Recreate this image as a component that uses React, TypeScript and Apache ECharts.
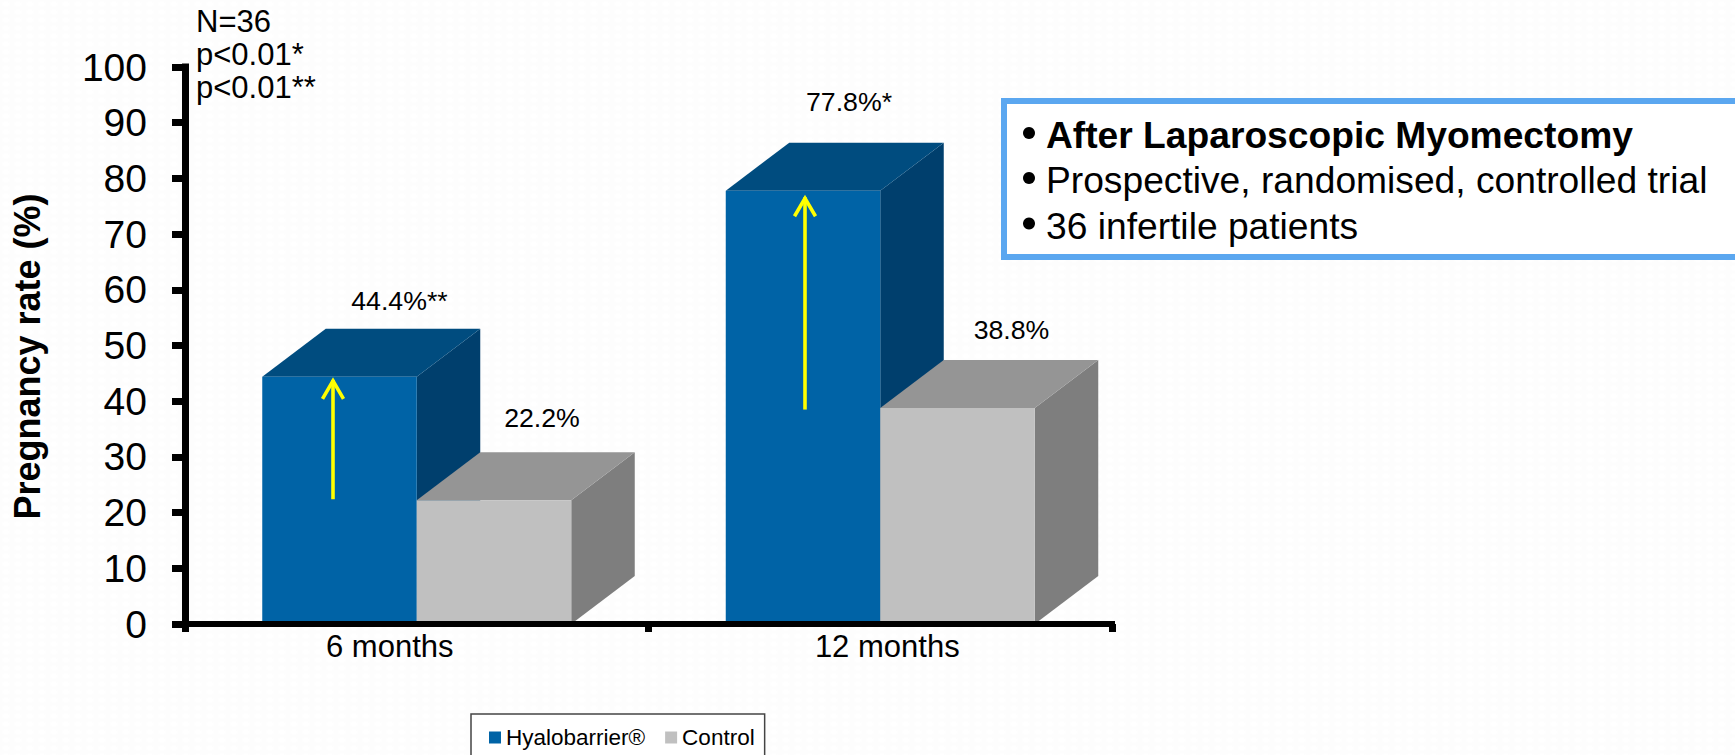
import React, { useEffect, useRef } from "react";
import * as echarts from "echarts";

const categories = ["6 months", "12 months"];
const hyalobarrier = [44.4, 77.8];
const control = [22.2, 38.8];
const hyalobarrierLabels = ["44.4%**", "77.8%*"];
const controlLabels = ["22.2%", "38.8%"];
const arrowFrom = [22.4, 38.5];
const arrowTo = [44.0, 76.8];
const yTicks = { min: 0, max: 100, step: 10 };
const statsLines = ["N=36", "p<0.01*", "p<0.01**"];
const boxLines = [
  "After Laparoscopic Myomectomy",
  "Prospective, randomised, controlled trial",
  "36 infertile patients",
];

const FONT = '"Liberation Sans", Arial, sans-serif';
const DEPTH_X = 63.5;
const DEPTH_Y = 48;
const BLUE = { front: "#0063A6", top: "#004C7F", side: "#003F6D" };
const GRAY = { front: "#C0C0C0", top: "#959595", side: "#7E7E7E" };
const blueLabelOffset = [[60, -76], [46, -89]];
const grayLabelOffset = [[48, -82], [54, -78]];
const arrowDx = [-6.5, 2];

function box3d(
  colors: { front: string; top: string; side: string },
  side: -1 | 1,
  labels: string[],
  labelOffset: number[][],
) {
  return (_params: any, api: any) => {
    const idx = api.value(0);
    const val = api.value(1);
    const [cx, yTop] = api.coord([idx, val]);
    const [, yBase] = api.coord([idx, 0]);
    const bw = api.size([1, 0])[0] / 3;
    const x0 = side < 0 ? cx - bw : cx;
    const x1 = x0 + bw;
    const poly = (points: number[][], fill: string) => ({
      type: "polygon",
      shape: { points },
      style: { fill },
    });
    const off = labelOffset[idx];
    return {
      type: "group",
      children: [
        poly(
          [[x1, yBase], [x1 + DEPTH_X, yBase - DEPTH_Y], [x1 + DEPTH_X, yTop - DEPTH_Y], [x1, yTop]],
          colors.side,
        ),
        poly(
          [[x0, yTop], [x0 + DEPTH_X, yTop - DEPTH_Y], [x1 + DEPTH_X, yTop - DEPTH_Y], [x1, yTop]],
          colors.top,
        ),
        poly([[x0, yBase], [x0, yTop], [x1, yTop], [x1, yBase]], colors.front),
        {
          type: "text",
          style: {
            text: labels[idx],
            x: (x0 + x1) / 2 + off[0],
            y: yTop + off[1],
            font: `26.7px ${FONT}`,
            fill: "#000",
            align: "center",
            verticalAlign: "middle",
          },
        },
      ],
    };
  };
}

function arrow(_params: any, api: any) {
  const idx = api.value(0);
  const [cx, yFrom] = api.coord([idx, api.value(1)]);
  const [, yTo] = api.coord([idx, api.value(2)]);
  const bw = api.size([1, 0])[0] / 3;
  const x = cx - bw / 2 + arrowDx[idx];
  const style = { stroke: "#FFFF00", lineWidth: 3.6, fill: "none" };
  return {
    type: "group",
    children: [
      { type: "line", shape: { x1: x, y1: yFrom, x2: x, y2: yTo + 1 }, style },
      {
        type: "polyline",
        shape: { points: [[x - 10.5, yTo + 20], [x, yTo + 2], [x + 10.5, yTo + 20]] },
        style,
      },
    ],
  };
}

export default function App() {
  const ref = useRef<HTMLDivElement>(null);
  useEffect(() => {
    document.body.style.margin = "0";
    document.body.style.overflow = "hidden";
    const chart = echarts.init(ref.current!, undefined, { renderer: "svg" });
    const boxTextX = 1046;
    const boxY = [135, 180, 225.5];
    chart.setOption({
      animation: false,
      backgroundColor: "transparent",
      textStyle: { fontFamily: FONT },
      grid: { left: 185, top: 67, width: 927, height: 557, containLabel: false, outerBoundsMode: "none" },
      legend: {
        left: 471,
        top: 714,
        orient: "horizontal",
        data: ["Hyalobarrier®", "Control"],
        icon: "rect",
        itemWidth: 12,
        itemHeight: 12,
        itemGap: 20,
        selectedMode: false,
        backgroundColor: "#fff",
        borderColor: "#444",
        borderWidth: 1.5,
        borderRadius: 0,
        padding: [12, 10, 12, 18],
        textStyle: { fontFamily: FONT, fontSize: 22.5, color: "#000", padding: [0, 0, 0, 0] },
      },
      xAxis: {
        type: "category",
        data: categories,
        z: 5,
        axisLine: { lineStyle: { color: "#000", width: 6, cap: "square" } },
        axisTick: { show: true, length: 8, lineStyle: { color: "#000", width: 7 } },
        axisLabel: {
          margin: 7,
          fontFamily: FONT,
          fontSize: 31,
          color: "#000",
          interval: 0,
          formatter: (v: string, i: number) => (i === 0 ? `{a|${v}}` : `{b|${v}}`),
          rich: {
            a: { fontFamily: FONT, fontSize: 31, color: "#000", padding: [0, 54, 0, 0] },
            b: { fontFamily: FONT, fontSize: 31, color: "#000", padding: [0, 0, 0, 14] },
          },
        },
      },
      yAxis: {
        type: "value",
        min: yTicks.min,
        max: yTicks.max,
        interval: yTicks.step,
        z: 5,
        name: "Pregnancy rate (%)",
        nameLocation: "middle",
        nameRotate: 90,
        nameGap: 140,
        nameTextStyle: {
          fontFamily: FONT,
          fontSize: 36,
          fontWeight: "bold",
          color: "#000",
          padding: [0, 22, 0, 0],
        },
        splitLine: { show: false },
        axisLine: { show: true, lineStyle: { color: "#000", width: 7, cap: "square" } },
        axisTick: { show: true, length: 13, lineStyle: { color: "#000", width: 7 } },
        axisLabel: { margin: 38, fontFamily: FONT, fontSize: 39, color: "#000" },
      },
      series: [
        {
          name: "Hyalobarrier®",
          type: "custom",
          clip: false,
          z: 2,
          itemStyle: { color: BLUE.front },
          encode: { x: 0, y: 1 },
          renderItem: box3d(BLUE, -1, hyalobarrierLabels, blueLabelOffset),
          data: hyalobarrier.map((v, i) => [i, v]),
        },
        {
          name: "Control",
          type: "custom",
          clip: false,
          z: 3,
          itemStyle: { color: GRAY.front },
          encode: { x: 0, y: 1 },
          renderItem: box3d(GRAY, 1, controlLabels, grayLabelOffset),
          data: control.map((v, i) => [i, v]),
        },
        {
          name: "arrows",
          type: "custom",
          clip: false,
          z: 4,
          encode: { x: 0, y: [1, 2] },
          renderItem: arrow,
          data: arrowFrom.map((v, i) => [i, v, arrowTo[i]]),
        },
      ],
      graphic: [
        ...statsLines.map((t, i) => ({
          type: "text",
          x: 196,
          y: 21 + i * 33,
          z: 10,
          style: { text: t, font: `31px ${FONT}`, fill: "#000", verticalAlign: "middle" },
        })),
        {
          type: "rect",
          z: 10,
          shape: { x: 1004, y: 101, width: 760, height: 156 },
          style: { fill: "#fff", stroke: "#5BA7F0", lineWidth: 6 },
        },
        ...boxLines.flatMap((t, i) => [
          {
            type: "circle",
            z: 11,
            shape: { cx: 1029, cy: boxY[i] - 2, r: 6 },
            style: { fill: "#000" },
          },
          {
            type: "text",
            x: boxTextX,
            y: boxY[i],
            z: 11,
            style: {
              text: t,
              font: `${i === 0 ? "bold " : ""}37.2px ${FONT}`,
              fill: "#000",
              verticalAlign: "middle",
            },
          },
        ]),
      ],
    });
    return () => chart.dispose();
  }, []);
  return (
    <div
      style={{
        position: "absolute",
        left: 0,
        top: 0,
        width: 1735,
        height: 755,
        background: "#fdfdfd",
        backgroundImage:
          "radial-gradient(ellipse 5px 3px at 6px 4px, #ffffff 60%, transparent 100%)",
        backgroundSize: "12px 8px",
      }}
    >
      <div ref={ref} style={{ width: 1735, height: 755 }} />
    </div>
  );
}
